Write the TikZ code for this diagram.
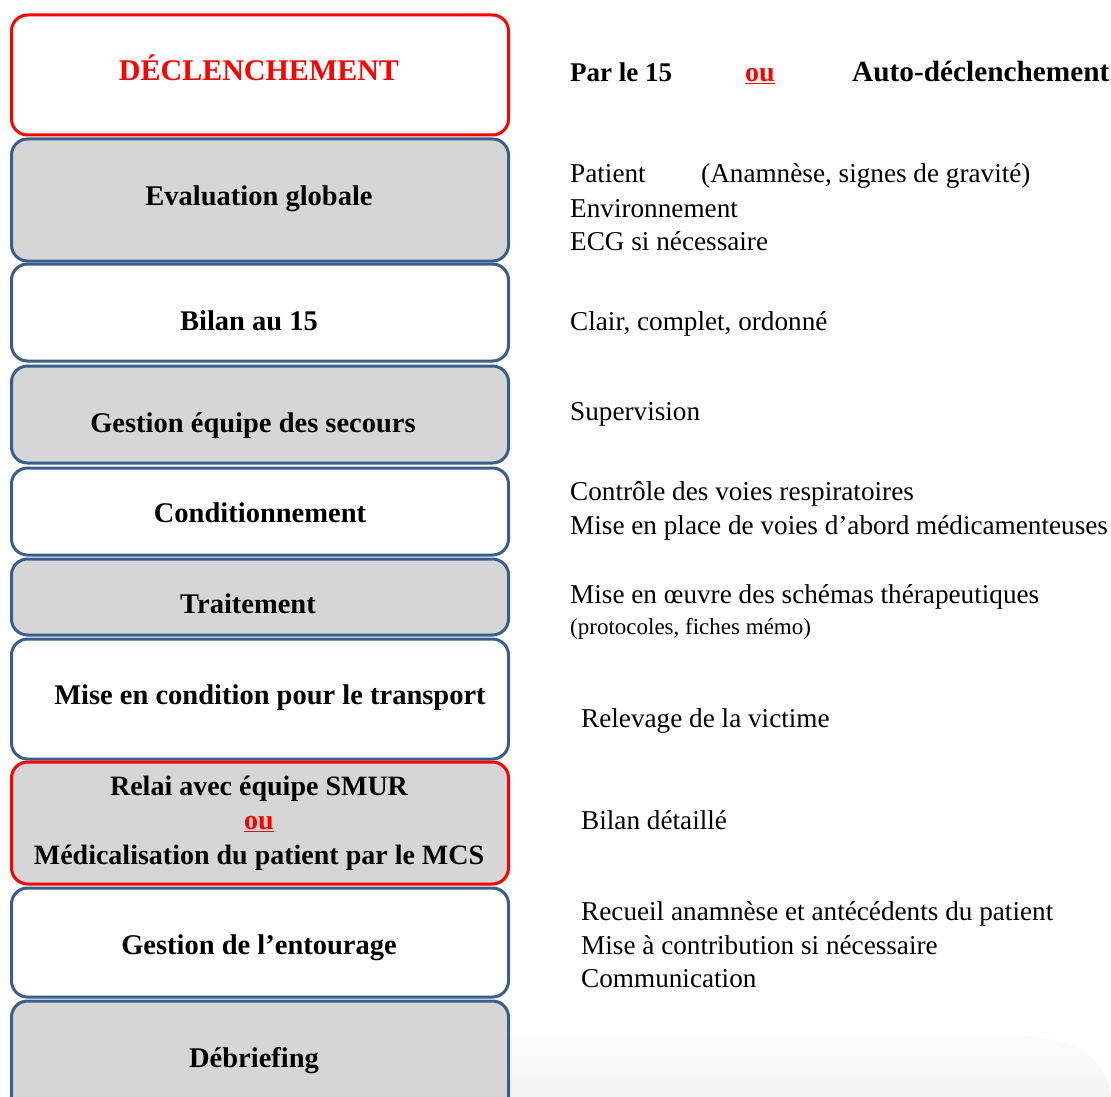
\documentclass[tikz,border=0pt]{standalone}
\usepackage{fontspec}
\setmainfont{Liberation Serif}
\definecolor{boxblue}{RGB}{58,94,140}
\definecolor{boxgray}{RGB}{214,214,214}
\definecolor{hotred}{RGB}{255,0,0}
\begin{document}
\begin{tikzpicture}[x=1pt,y=-1pt,
  stage/.style={draw=boxblue, line width=3pt, rounded corners=16pt,
    minimum width=497pt, inner sep=0pt, fill=white},
  hot/.style={draw=hotred},
  grey/.style={fill=boxgray},
  btxt/.style={font=\fontsize{28.5}{34.5}\selectfont\bfseries, anchor=mid,
    inner sep=0pt, align=center},
  desc/.style={font=\fontsize{27.2}{34}\selectfont, anchor=mid west, inner sep=0pt},
  small/.style={font=\fontsize{23}{27}\selectfont, anchor=mid west, inner sep=0pt},
  bdesc/.style={font=\fontsize{27}{34}\selectfont\bfseries, anchor=mid west, inner sep=0pt},
  orword/.style={font=\fontsize{28}{34}\selectfont\bfseries, text=hotred, inner sep=0pt}]
\useasboundingbox (0,0) rectangle (1111,1097);
\clip (0,0) rectangle (1111,1097);
% faint background swoosh
\shade[top color=gray!2, bottom color=gray!9]
  (150,1097) .. controls (260,1045) and (400,1035) .. (560,1035)
  -- (1010,1035) .. controls (1080,1035) and (1106,1060) .. (1111,1097) -- cycle;
% stages
\node[stage, hot, minimum height=120pt] (s1) at (260,75) {};
\node[stage, grey, minimum height=122pt] (s2) at (260,200) {};
\node[stage, minimum height=97pt] (s3) at (260,312.5) {};
\node[stage, grey, minimum height=97pt] (s4) at (260,414.5) {};
\node[stage, minimum height=87pt] (s5) at (260,511.5) {};
\node[stage, grey, minimum height=76pt] (s6) at (260,597) {};
\node[stage, minimum height=120pt] (s7) at (260,699) {};
\node[stage, hot, grey, minimum height=122pt] (s8) at (260,823) {};
\node[stage, minimum height=109pt] (s9) at (260,942.5) {};
\node[stage, grey, minimum height=119pt] (s10) at (260,1060.5) {};
% stage titles
\node[btxt, text=hotred, font=\fontsize{30}{34.5}\selectfont\bfseries] (t1) at (259,78) {DÉCLENCHEMENT};
\node[btxt] (t2) at (259,203) {Evaluation globale};
\node[btxt] (t3) at (249,328) {Bilan au 15};
\node[btxt] (t4) at (253,430) {Gestion équipe des secours};
\node[btxt] (t5) at (260,520) {Conditionnement};
\node[btxt] (t6) at (248,611) {Traitement};
\node[btxt] (t7) at (270,702) {Mise en condition pour le transport};
\node[btxt, anchor=center, font=\fontsize{28}{34.5}\selectfont\bfseries] (t8) at (259,823) {Relai avec équipe SMUR\\
  \textcolor{hotred}{\underline{ou}}\\Médicalisation du patient par le MCS};
\node[btxt] (t9) at (259,952) {Gestion de l’entourage};
\node[btxt] (t10) at (254,1065) {Débriefing};
% right-hand descriptions
\node[bdesc] (d1a) at (570,79) {Par le 15};
\node[orword, anchor=mid west] (d1b) at (745,79) {\underline{ou}};
\node[bdesc, font=\fontsize{29.3}{34}\selectfont\bfseries] (d1c) at (852,79) {Auto-déclenchement};
\node[desc] (d2a) at (570,180) {Patient};
\node[desc] (d2b) at (701,180) {(Anamnèse, signes de gravité)};
\node[desc] (d2c) at (570,215) {Environnement};
\node[desc] (d2d) at (570,248) {ECG si nécessaire};
\node[desc] (d3) at (570,328) {Clair, complet, ordonné};
\node[desc] (d4) at (570,418) {Supervision};
\node[desc] (d5a) at (570,498) {Contrôle des voies respiratoires};
\node[desc] (d5b) at (570,532) {Mise en place de voies d’abord médicamenteuses};
\node[desc] (d6a) at (570,601) {Mise en œuvre des schémas thérapeutiques};
\node[small] (d6b) at (570,632) {(protocoles, fiches mémo)};
\node[desc] (d7) at (581,725) {Relevage de la victime};
\node[desc] (d8) at (581,827) {Bilan détaillé};
\node[desc] (d9a) at (581,918) {Recueil anamnèse et antécédents du patient};
\node[desc] (d9b) at (581,952) {Mise à contribution si nécessaire};
\node[desc] (d9c) at (581,985) {Communication};
\end{tikzpicture}
\end{document}
